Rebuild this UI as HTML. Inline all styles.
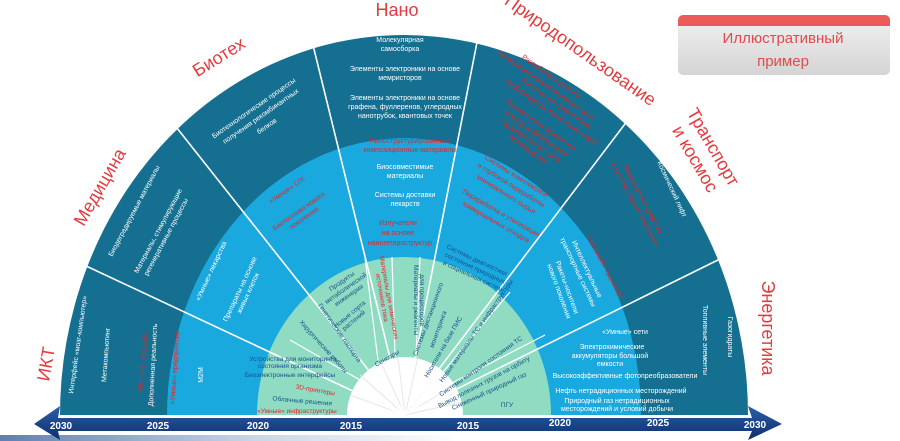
<!DOCTYPE html>
<html><head><meta charset="utf-8"><style>
html,body{margin:0;padding:0;background:#fff;width:900px;height:441px;overflow:hidden}
svg{display:block}
svg text{font-family:"Liberation Sans",sans-serif}
</style></head><body>
<svg width="900" height="441" viewBox="0 0 900 441" xmlns="http://www.w3.org/2000/svg">
<defs>
<linearGradient id="bar" x1="0" y1="0" x2="0" y2="1"><stop offset="0" stop-color="#2a5ea8"/><stop offset="1" stop-color="#0f2f6e"/></linearGradient>
<linearGradient id="strip" x1="0" y1="0" x2="1" y2="0"><stop offset="0" stop-color="#5d80b0"/><stop offset="0.55" stop-color="#c9d6e6"/><stop offset="1" stop-color="#fff"/></linearGradient>
<linearGradient id="box" x1="0" y1="0" x2="0" y2="1"><stop offset="0" stop-color="#f2f2f2"/><stop offset="1" stop-color="#d4d4d4"/></linearGradient>
</defs>
<path d="M60,415 A344,380 0 0 1 748,415 Z" fill="#146f90"/>
<path d="M167,415 A237,277 0 0 1 641,415 Z" fill="#1aa9de"/>
<path d="M257,415 A147,158 0 0 1 551,415 Z" fill="#8fdcc2"/>
<path d="M347,415 A58,58 0 0 1 463,415 Z" fill="#fff"/>
<g stroke="#e6e6e6" stroke-width="1">
<line x1="405" y1="415" x2="350" y2="395"/><line x1="405" y1="415" x2="360" y2="375"/><line x1="405" y1="415" x2="380" y2="360"/><line x1="405" y1="415" x2="398" y2="357"/><line x1="405" y1="415" x2="418" y2="357"/><line x1="405" y1="415" x2="440" y2="368"/><line x1="405" y1="415" x2="455" y2="385"/><line x1="405" y1="415" x2="462" y2="402"/>
</g>
<g stroke="#fff" stroke-width="1.6" fill="none">
<line x1="404" y1="415" x2="84" y2="265"/>
<line x1="404" y1="415" x2="173" y2="123"/>
<line x1="404" y1="415" x2="311" y2="37"/>
<line x1="404" y1="415" x2="480" y2="27"/>
<line x1="404" y1="415" x2="631" y2="116"/>
<line x1="404" y1="415" x2="722" y2="258"/>
</g>
<g stroke="#fff" stroke-width="1.2">
<line x1="378" y1="360" x2="365" y2="258"/>
<line x1="395" y1="357" x2="392" y2="257"/>
<line x1="416" y1="357" x2="420" y2="257"/>
<line x1="443" y1="372" x2="510" y2="292"/>
<line x1="452" y1="383" x2="545" y2="335"/>
<line x1="360" y1="380" x2="290" y2="340"/>
</g>
<!-- axis -->
<rect x="0" y="435" width="460" height="6" fill="url(#strip)"/>
<polygon points="34,424 60,406 58,418 752,418 748,406 782,424 748,440 752,431 58,431 60,440" fill="url(#bar)"/>
<g fill="#fff" font-size="10" font-weight="bold" text-anchor="middle">
<text x="61" y="429">2030</text><text x="158" y="429">2025</text><text x="258" y="429">2020</text><text x="351" y="429">2015</text><text x="468" y="429">2015</text><text x="560" y="426">2020</text><text x="658" y="426">2025</text><text x="755" y="428">2030</text>
</g>
<!-- illustrative box -->
<rect x="678" y="15" width="212" height="60" rx="5" fill="url(#box)"/>
<path d="M678,26 V20 a5,5 0 0 1 5,-5 H885 a5,5 0 0 1 5,5 V26 Z" fill="#ec5a5a"/>
<g fill="#e24a4a" font-size="15" text-anchor="middle"><text x="783" y="43">Иллюстративный</text><text x="783" y="66">пример</text></g>
<!-- sector titles -->
<g fill="#e33b3f" font-size="18" text-anchor="middle">
<text transform="translate(52,365) rotate(-80)">ИКТ</text>
<text transform="translate(105,190) rotate(-60)">Медицина</text>
<text transform="translate(222,62) rotate(-32)">Биотех</text>
<text x="397" y="16">Нано</text>
<text transform="translate(577,55) rotate(35)">Природопользование</text>
<text transform="translate(708,150) rotate(60)">Транспорт</text>
<text transform="translate(690,162) rotate(60)">и космос</text>
<text transform="translate(762,328) rotate(90)">Энергетика</text>
</g>
<!-- Nano -->
<g font-size="7" text-anchor="middle" fill="#fff">
<text x="400" y="42">Молекулярная</text><text x="400" y="51">самосборка</text>
<text x="405" y="71">Элементы электроники на основе</text><text x="400" y="80">мемристоров</text>
<text x="405" y="100">Элементы электроники на основе</text><text x="405" y="109">графена, фуллеренов, углеродных</text><text x="405" y="118">нанотрубок, квантовых точек</text>
<text x="405" y="169">Биосовместимые</text><text x="405" y="178">материалы</text>
<text x="405" y="197">Системы доставки</text><text x="405" y="206">лекарств</text>
</g>
<g font-size="7" text-anchor="middle" fill="#e0262c">
<text x="410" y="143">Наноструктурированные</text><text x="410" y="152">композиционные материалы</text>
<text x="398" y="225">Излучатели</text><text x="398" y="235">на основе</text><text x="400" y="245">наногетероструктур</text>
</g>
<!-- Biotech / Medicine / IKT dark + light -->
<g font-size="7" text-anchor="middle" fill="#fff">
<text transform="translate(255,110) rotate(-35)">Биотехнологические процессы</text>
<text transform="translate(262,118) rotate(-35)">получения рекомбинантных</text>
<text transform="translate(268,128) rotate(-35)">белков</text>
<text transform="translate(136,212) rotate(-62)">Биодеградируемые материалы</text>
<text transform="translate(160,232) rotate(-62)">Материалы, стимулирующие</text>
<text transform="translate(168,238) rotate(-62)">регенеративные процессы</text>
<text transform="translate(213,272) rotate(-65)">«Умные» лекарства</text>
<text transform="translate(242,290) rotate(-65)">Препараты на основе</text>
<text transform="translate(250,294) rotate(-65)">живых клеток</text>
<text transform="translate(80,345) rotate(-82)">Интерфейс «мозг-компьютер»</text>
<text transform="translate(108,355) rotate(-86)">Метакомпьютинг</text>
<text transform="translate(155,365) rotate(-87)">Дополненная реальность</text>
<text transform="translate(203,375) rotate(-90)">M2M</text>
</g>
<g font-size="7" text-anchor="middle" fill="#e0262c">
<text transform="translate(288,192) rotate(-35)">«Умное» С/Х</text>
<text transform="translate(300,213) rotate(-35)">Биотопливо нового</text>
<text transform="translate(305,220) rotate(-35)">поколения</text>
<text transform="translate(145,362) rotate(-84)">Интернет «вещей»</text>
<text transform="translate(177,368) rotate(-86)">«Умные» предприятия</text>
</g>
<!-- green ring -->
<g font-size="6.5" text-anchor="middle" fill="#1b4f8c">
<text x="293" y="361">Устройства для мониторинга</text>
<text x="290" y="368">состояния организма</text>
<text x="290" y="377">Биоэлектронные интерфейсы</text>
<text transform="translate(302,403) rotate(5)">Облачные решения</text>
<text transform="translate(338,334) rotate(55)">Генетические паспорта</text>
<text transform="translate(322,348) rotate(48)">Хирургические роботы</text>
<text transform="translate(343,283) rotate(-35)">Продукты</text>
<text transform="translate(347,290) rotate(-35)">метаболической</text>
<text transform="translate(350,297) rotate(-35)">инженерии</text>
<text transform="translate(351,316) rotate(-40)">Новые сорта</text>
<text transform="translate(355,322) rotate(-40)">растений</text>
<text transform="translate(388,360) rotate(-30)">Сенсоры</text>
<text transform="translate(414,300) rotate(90)">Материалы и реагенты</text>
<text transform="translate(420,300) rotate(90)">для процессоров</text>
<text transform="translate(476,262) rotate(25)">Системы диагностики</text>
<text transform="translate(474,270) rotate(25)">состояния природных</text>
<text transform="translate(472,278) rotate(25)">и социальных систем</text>
<text transform="translate(430,320) rotate(-70)">Системы дистанционного</text>
<text transform="translate(440,330) rotate(-70)">мониторинга</text>
<text transform="translate(445,348) rotate(-60)">Носители на базе ПИС</text>
<text transform="translate(478,332) rotate(-55)">Новые материалы ТС и инфраструктуры</text>
<text transform="translate(482,368) rotate(-35)">Системы контроля состояния ТС</text>
<text transform="translate(485,384) rotate(-28)">Вывод полезных грузов на орбиту</text>
<text transform="translate(490,393) rotate(-25)">Сниженный природный газ</text>
<text x="507" y="407">ПГУ</text>
</g>
<g font-size="6.5" text-anchor="middle" fill="#e0262c">
<text transform="translate(315,392) rotate(10)">3D-принтеры</text>
<text x="297" y="413">«Умные» инфраструктуры</text>
<text transform="translate(387,298) rotate(80)">Материалы для химических</text>
<text transform="translate(380,298) rotate(80)">источников тока</text>
</g>
<!-- Prirodo -->
<g font-size="7" text-anchor="middle" fill="#e0262c">
<text transform="translate(550,78) rotate(35)">Разработка и добыча</text>
<text transform="translate(545,87) rotate(35)">нетрадиционных источников сырья</text>
<text transform="translate(555,105) rotate(35)">Системы для увеличения</text>
<text transform="translate(550,114) rotate(35)">коэффициента извлечения нефти</text>
<text transform="translate(540,127) rotate(35)">Экологически безопасная</text>
<text transform="translate(535,135) rotate(35)">и ресурсосберегающая</text>
<text transform="translate(530,143) rotate(35)">переработка отходов</text>
<text transform="translate(527,151) rotate(35)">производства</text>
<text transform="translate(515,178) rotate(32)">Системы комплексной</text>
<text transform="translate(510,187) rotate(32)">и глубокой переработки</text>
<text transform="translate(505,196) rotate(32)">минерального сырья</text>
<text transform="translate(500,215) rotate(30)">Переработка и утилизация</text>
<text transform="translate(495,224) rotate(30)">коммунальных отходов</text>
<text transform="translate(641,200) rotate(62)">Транспортные средства</text>
<text transform="translate(633,205) rotate(62)">и системы нового поколения</text>
<text transform="translate(603,268) rotate(62)">«Зеленый» транспорт</text>
</g>
<g font-size="7" text-anchor="middle" fill="#fff">
<text transform="translate(670,190) rotate(65)">Космический лифт</text>
<text transform="translate(585,270) rotate(65)">Интеллектуальные</text>
<text transform="translate(576,273) rotate(65)">транспортные системы</text>
<text transform="translate(565,288) rotate(70)">Ракеты-носители</text>
<text transform="translate(557,292) rotate(70)">нового поколения</text>
<text transform="translate(703,340) rotate(90)">Топливные элементы</text>
<text transform="translate(728,337) rotate(90)">Газогидраты</text>
<text x="625" y="334">«Умные» сети</text>
<text x="612" y="349">Электрохимические</text>
<text x="610" y="358">аккумуляторы большой</text>
<text x="610" y="366">емкости</text>
<text x="625" y="378">Высокоэффективные фотопреобразователи</text>
<text x="621" y="393">Нефть нетрадиционных месторождений</text>
<text x="617" y="403">Природный газ нетрадиционных</text>
<text x="617" y="411">месторождений и условий добычи</text>
</g>
</svg>
</body></html>
